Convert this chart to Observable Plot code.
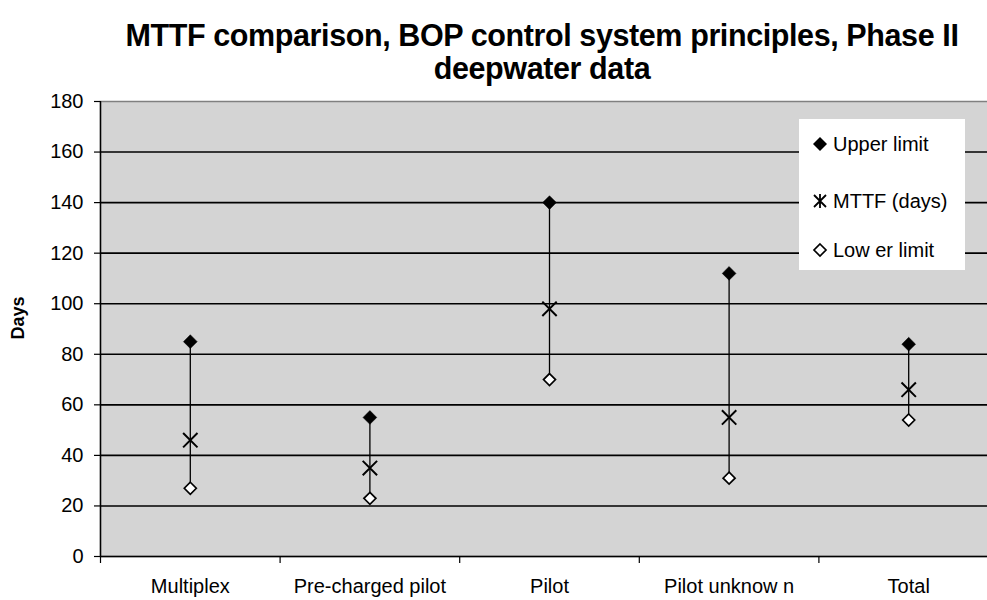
<!DOCTYPE html>
<html><head><meta charset="utf-8">
<script src="https://cdn.jsdelivr.net/npm/d3@7"></script>
<script src="https://cdn.jsdelivr.net/npm/@observablehq/plot@0.6"></script>
<style>
html,body{margin:0;padding:0;background:#fff;}
body{width:987px;height:600px;overflow:hidden;position:relative;font-family:"Liberation Sans",Arial,sans-serif;color:#000;}
#chart{position:absolute;left:0;top:0;}
#chart svg{max-width:none !important;height:600px !important;}
#title{position:absolute;left:0;top:19px;width:1084px;text-align:center;font-weight:bold;font-size:30.5px;line-height:33px;letter-spacing:-0.4px;}
#ylabel{position:absolute;left:18px;top:318px;transform:translate(-50%,-50%) rotate(-90deg);font-weight:bold;font-size:18px;white-space:nowrap;}
#legend{position:absolute;left:799px;top:119px;width:166px;height:151px;background:#fff;font-size:20px;}
#legend .row{position:absolute;left:0;height:24px;display:flex;align-items:center;white-space:nowrap;}
#legend svg{margin-left:13px;margin-right:5px;}
</style>
</head><body>
<div id="chart"></div>
<div id="title">MTTF comparison, BOP control system principles, Phase II<br>deepwater data</div>
<div id="ylabel">Days</div>
<div id="legend"></div>
<script>
const categories = ["Multiplex", "Pre-charged pilot", "Pilot", "Pilot unknow n", "Total"];
const upperLimit = [85, 55, 140, 112, 84];
const mttfDays = [46, 35, 98, 55, 66];
const lowerLimit = [27, 23, 70, 31, 54];
const yTicks = [0, 20, 40, 60, 80, 100, 120, 140, 160, 180];
const seriesNames = ["Upper limit", "MTTF (days)", "Low er limit"];

const data = categories.map((c, i) => ({i, cat: c, upper: upperLimit[i], mttf: mttfDays[i], lower: lowerLimit[i]}));
const boundaries = d3.range(categories.length + 1);

const plot = Plot.plot({
  width: 998,
  height: 600,
  marginTop: 101,
  marginBottom: 44,
  marginLeft: 100,
  marginRight: 0,
  style: {fontFamily: "Liberation Sans, Arial, sans-serif", fontSize: "20px", color: "#000", background: "transparent"},
  x: {domain: [0, categories.length], axis: null},
  y: {domain: [0, 180], axis: null},
  marks: [
    Plot.frame({fill: "#d4d4d4", stroke: "#808080", strokeWidth: 1.5}),
    Plot.ruleY(yTicks.filter(v => v > 0 && v < 180), {stroke: "#000", strokeWidth: 1.6}),
    Plot.ruleY([0], {stroke: "#000", strokeWidth: 1.4}),
    Plot.ruleX([0], {stroke: "#000", strokeWidth: 1.4}),
    Plot.axisY(yTicks, {tickSize: 6, tickPadding: 11, tickFormat: d => d, fontSize: 20, label: null, stroke: "#000", strokeWidth: 1.2}),
    Plot.axisX(boundaries, {tickSize: 7, tickFormat: () => "", label: null, stroke: "#000", strokeWidth: 1.2}),
    Plot.text(data, {x: d => d.i + 0.5, text: "cat", frameAnchor: "bottom", dy: 36, fontSize: 20, fill: "#000"}),
    Plot.ruleX(data, {x: d => d.i + 0.5, y1: "lower", y2: "upper", stroke: "#000", strokeWidth: 1.3}),
    Plot.dot(data, {x: d => d.i + 0.5, y: "upper", symbol: "diamond2", r: 6.2, fill: "#000", stroke: "#000", strokeWidth: 0.5}),
    Plot.dot(data, {x: d => d.i + 0.5, y: "mttf", symbol: "times", r: 6.6, stroke: "#000", strokeWidth: 2}),
    Plot.dot(data, {x: d => d.i + 0.5, y: "lower", symbol: "diamond2", r: 5.4, fill: "#fff", stroke: "#000", strokeWidth: 1.7})
  ]
});
document.getElementById("chart").appendChild(plot);

// legend
const legend = d3.select("#legend");
const rowsY = [13, 70, 119];
const symbolSvg = [
  '<svg width="16" height="16" viewBox="-8 -8 16 16"><path d="M0,-7L7,0L0,7L-7,0Z" fill="#000"/></svg>',
  '<svg width="16" height="16" viewBox="-8 -8 16 16"><path d="M-6,-6L6,6M6,-6L-6,6M0,-7L0,7" stroke="#000" stroke-width="1.8" fill="none"/></svg>',
  '<svg width="16" height="16" viewBox="-8 -8 16 16"><path d="M0,-6L6,0L0,6L-6,0Z" fill="#fff" stroke="#000" stroke-width="1.7"/></svg>'
];
seriesNames.forEach((name, k) => {
  legend.append("div").attr("class", "row").style("top", rowsY[k] + "px")
    .html(symbolSvg[k] + "<span>" + name + "</span>");
});
</script>
</body></html>
